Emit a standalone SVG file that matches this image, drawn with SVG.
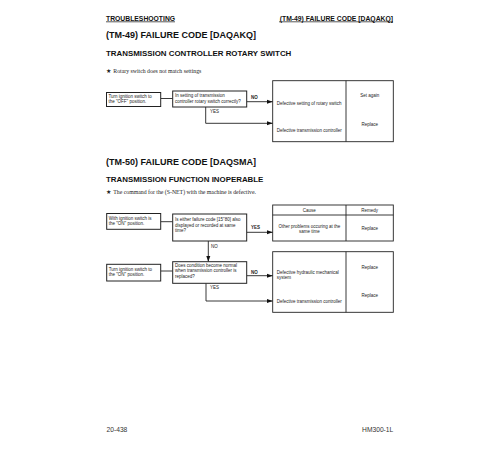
<svg xmlns="http://www.w3.org/2000/svg" width="500" height="450" viewBox="0 0 500 450">
<defs>
<marker id="arr" viewBox="0 0 10 10" refX="10" refY="5" markerWidth="6" markerHeight="6" markerUnits="userSpaceOnUse" orient="auto">
<path d="M0,1.5 L10,5 L0,8.5 Z" fill="#111"/>
</marker>
<style>
.h{font-family:"Liberation Sans",Arial,sans-serif;font-weight:bold;fill:#111}
.t{font-family:"Liberation Sans",Arial,sans-serif;font-size:4.5px;fill:#222}
.c{text-anchor:middle}
.lb{font-family:"Liberation Sans",Arial,sans-serif;font-size:4.5px;font-weight:bold;fill:#222}
.s{font-family:"Liberation Serif","Times New Roman",serif;font-size:5.8px;fill:#222}
.box{fill:#fff;stroke:#222;stroke-width:1}
.tbl{fill:none;stroke:#222;stroke-width:0.9}
.ln{fill:none;stroke:#222;stroke-width:0.9}
.ft{font-family:"Liberation Sans",Arial,sans-serif;font-size:6.7px;fill:#333}
</style>
</defs>
<rect width="500" height="450" fill="#fff"/>

<g id="header">
<text class="h" x="106" y="20.5" font-size="6.8">TROUBLESHOOTING</text>
<text class="h" x="393" y="20.5" font-size="6.8" text-anchor="end">(TM-49) FAILURE CODE [DAQAKQ]</text>
<line x1="106" y1="21.8" x2="175" y2="21.8" stroke="#111" stroke-width="0.7"/>
<line x1="279" y1="21.8" x2="393" y2="21.8" stroke="#111" stroke-width="0.7"/>
</g>

<g id="section1-titles">
<text class="h" x="106" y="37.7" font-size="9">(TM-49) FAILURE CODE [DAQAKQ]</text>
<text class="h" x="106" y="55.7" font-size="7.9">TRANSMISSION CONTROLLER ROTARY SWITCH</text>
<text class="s" x="105.5" y="72.5">★</text>
<text class="s" x="113.3" y="72.5">Rotary switch does not match settings</text>
</g>

<g id="connectors">
<line class="ln" x1="160.7" y1="98.5" x2="172.7" y2="98.5"/>
<line class="ln" x1="246.7" y1="101.7" x2="272.7" y2="101.7" marker-end="url(#arr)"/>
<polyline class="ln" points="205.7,107 205.7,123.3 272.7,123.3" marker-end="url(#arr)"/>
<line class="ln" x1="160.7" y1="221.7" x2="172.7" y2="221.7"/>
<line class="ln" x1="246.7" y1="232.3" x2="272.7" y2="232.3" marker-end="url(#arr)"/>
<line class="ln" x1="208.3" y1="241" x2="208.3" y2="261.7" marker-end="url(#arr)"/>
<line class="ln" x1="160.7" y1="271" x2="172.7" y2="271"/>
<line class="ln" x1="246.7" y1="275.7" x2="272.7" y2="275.7" marker-end="url(#arr)"/>
<polyline class="ln" points="206,283.3 206,301 272.7,301" marker-end="url(#arr)"/>
<text class="lb" x="251" y="99">NO</text>
<text class="t" x="210" y="113">YES</text>
<text class="lb" x="251" y="229">YES</text>
<text class="t" x="211" y="247.5">NO</text>
<text class="lb" x="251" y="273.5">NO</text>
<text class="t" x="210" y="289">YES</text>
</g>

<g id="box-a">
<rect class="box" x="106.5" y="92.5" width="54.2" height="14"/>
<text class="t" x="108.5" y="97.5">Turn ignition switch to</text>
<text class="t" x="108.5" y="102.7">the "OFF" position.</text>
</g>

<g id="box-b">
<rect class="box" x="172.7" y="91" width="74" height="16"/>
<text class="t" x="175" y="96.8">In setting of transmission</text>
<text class="t" x="175" y="103">controller rotary switch correctly?</text>
</g>

<g id="table-1">
<rect class="tbl" x="272.7" y="80.7" width="120.6" height="61"/>
<line class="tbl" x1="346" y1="80.7" x2="346" y2="141.7"/>
<text class="t" x="276.7" y="104.8">Defective setting of rotary switch</text>
<text class="t" x="276.7" y="132">Defective transmission controller</text>
<text class="t c" x="369.7" y="97">Set again</text>
<text class="t c" x="369.7" y="126">Replace</text>
</g>

<g id="section2-titles">
<text class="h" x="106" y="165" font-size="9">(TM-50) FAILURE CODE [DAQSMA]</text>
<text class="h" x="106" y="182" font-size="7.9">TRANSMISSION FUNCTION INOPERABLE</text>
<text class="s" x="105.5" y="194">★</text>
<text class="s" x="113.3" y="194">The command for the (S-NET) with the machine is defective.</text>
</g>

<g id="table-2">
<rect class="tbl" x="272.7" y="205" width="120.6" height="36"/>
<line class="tbl" x1="272.7" y1="215" x2="393.3" y2="215"/>
<line class="tbl" x1="346" y1="205" x2="346" y2="241"/>
<text class="t c" x="309.3" y="211.8">Cause</text>
<text class="t c" x="369.7" y="211.8">Remedy</text>
<text class="t c" x="309.3" y="228">Other problems occuring at the</text>
<text class="t c" x="309.3" y="232.8">same time</text>
<text class="t c" x="369.7" y="230">Replace</text>
</g>

<g id="box-c">
<rect class="box" x="106.7" y="213.5" width="54" height="15.8"/>
<text class="t" x="108.7" y="219.8">With ignition switch is</text>
<text class="t" x="108.7" y="225.3">the "ON" position.</text>
</g>

<g id="box-d">
<rect class="box" x="172.7" y="214" width="74" height="27"/>
<text class="t" x="175" y="221">Is either failure code [15"80] also</text>
<text class="t" x="175" y="226.5">displayed or recorded at same</text>
<text class="t" x="175" y="232">time?</text>
</g>

<g id="box-e">
<rect class="box" x="172.7" y="261.7" width="74" height="21.6"/>
<text class="t" x="175" y="266.5">Does condition become normal</text>
<text class="t" x="175" y="272">when transmission controller is</text>
<text class="t" x="175" y="277.5">replaced?</text>
</g>

<g id="box-f">
<rect class="box" x="106.7" y="264.3" width="54" height="16.7"/>
<text class="t" x="108.7" y="270.5">Turn ignition switch to</text>
<text class="t" x="108.7" y="275.8">the "ON" position.</text>
</g>

<g id="table-3">
<rect class="tbl" x="272.7" y="251.7" width="120.6" height="60.6"/>
<line class="tbl" x1="346" y1="251.7" x2="346" y2="312.3"/>
<text class="t" x="276.7" y="273.5">Defective hydraulic mechanical</text>
<text class="t" x="276.7" y="278.5">system</text>
<text class="t" x="276.7" y="302.5">Defective transmission controller</text>
<text class="t c" x="369.7" y="269">Replace</text>
<text class="t c" x="369.7" y="296.5">Replace</text>
</g>

<g id="footer">
<text class="ft" x="106.5" y="432.3">20-438</text>
<text class="ft" x="393.3" y="432.3" text-anchor="end">HM300-1L</text>
</g>
</svg>
